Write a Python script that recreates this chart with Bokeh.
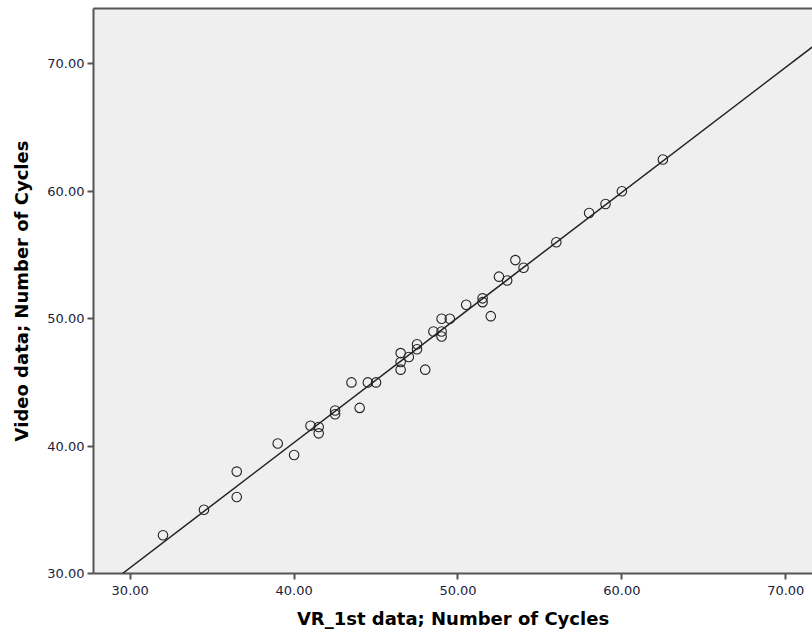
from bokeh.plotting import figure
from bokeh.models import Range1d, LinearAxis, FixedTicker, NumeralTickFormatter, Slope
from bokeh.embed import file_html
from bokeh.resources import INLINE

# Data
vr_first = [32.0, 34.5, 36.5, 36.5, 39.0, 40.0, 41.0, 41.5, 41.5, 42.5,
            42.5, 43.5, 44.0, 44.5, 45.0, 46.5, 46.5, 46.5, 47.0, 47.5,
            47.5, 48.0, 48.5, 49.0, 49.0, 49.0, 49.5, 50.5, 51.5, 51.5,
            52.0, 52.5, 53.0, 53.5, 54.0, 56.0, 58.0, 59.0, 60.0, 62.5]
video = [33.0, 35.0, 38.0, 36.0, 40.2, 39.3, 41.6, 41.5, 41.0, 42.8,
         42.5, 45.0, 43.0, 45.0, 45.0, 47.3, 46.6, 46.0, 47.0, 48.0,
         47.6, 46.0, 49.0, 50.0, 49.0, 48.6, 50.0, 51.1, 51.6, 51.3,
         50.2, 53.3, 53.0, 54.6, 54.0, 56.0, 58.3, 59.0, 60.0, 62.5]

fit_slope = 0.982
fit_intercept = 1.0

tick_values = [30, 40, 50, 60, 70]
x_label = "VR_1st data; Number of Cycles"
y_label = "Video data; Number of Cycles"

p = figure(width=812, height=631, output_backend="svg", toolbar_location=None,
           x_range=Range1d(27.76, 71.63), y_range=Range1d(30, 74.35),
           min_border_left=93, min_border_right=0, min_border_top=8, min_border_bottom=0)

p.background_fill_color = "#efefef"
p.border_fill_color = "white"
p.outline_line_color = None
p.grid.visible = False

for ax in (p.xaxis[0], p.yaxis[0]):
    ax.ticker = FixedTicker(ticks=tick_values)
    ax.formatter = NumeralTickFormatter(format="0.00")
    ax.minor_tick_line_color = None
    ax.major_tick_in = 0
    ax.major_tick_out = 6
    ax.major_tick_line_color = "#555555"
    ax.major_tick_line_width = 2
    ax.axis_line_color = "#555555"
    ax.axis_line_width = 2
    ax.major_label_text_font = "DejaVu Sans"
    ax.major_label_text_font_size = "13px"
    ax.major_label_text_color = "#1c1c3c"
    ax.axis_label_text_font = "DejaVu Sans"
    ax.axis_label_text_font_style = "bold"
    ax.axis_label_text_font_size = "18px"
    ax.axis_label_text_color = "black"

p.xaxis[0].axis_label = x_label
p.yaxis[0].axis_label = y_label
p.xaxis[0].major_label_standoff = 6
p.xaxis[0].axis_label_standoff = 10
p.yaxis[0].major_label_standoff = 3
p.yaxis[0].axis_label_standoff = 12

top = LinearAxis(ticker=FixedTicker(ticks=[]), axis_line_color="#555555",
                 axis_line_width=2, major_tick_line_color=None,
                 minor_tick_line_color=None, major_label_text_font_size="0px")
p.add_layout(top, "above")

p.add_layout(Slope(gradient=fit_slope, y_intercept=fit_intercept,
                   line_color="#222222", line_width=1.5))

p.scatter(vr_first, video, marker="circle", size=9.5, fill_color=None,
          line_color="#222222", line_width=1.1)

open("out.html", "w").write(file_html(p, INLINE))
